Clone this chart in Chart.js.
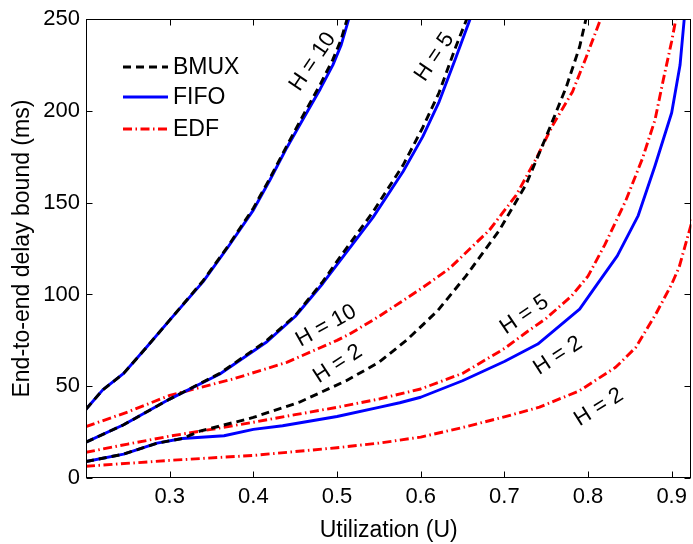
<!DOCTYPE html>
<html>
<head>
<meta charset="utf-8">
<script src="https://cdn.jsdelivr.net/npm/chart.js@4.4.1/dist/chart.umd.min.js"></script>
<style>
  html, body { margin: 0; padding: 0; background: #fff; }
  #wrap { width: 693px; height: 544px; position: relative; }
</style>
</head>
<body>
<div id="wrap"><canvas id="c" width="693" height="544"></canvas></div>
<script>
// ---------- data ----------
const xTickValues = [0.3, 0.4, 0.5, 0.6, 0.7, 0.8, 0.9];
const yTickValues = [0, 50, 100, 150, 200, 250];

const bmuxH10U = [0.2, 0.22, 0.245, 0.27, 0.3, 0.34, 0.37, 0.4, 0.42, 0.44, 0.46, 0.48, 0.495, 0.505, 0.512];
const bmuxH10D = [37.5, 48, 57, 70, 86, 107.5, 126.5, 147, 163.5, 181, 198, 214.5, 228, 239, 250];
const bmuxH5U  = [0.2, 0.245, 0.3, 0.36, 0.415, 0.45, 0.483, 0.503, 0.543, 0.579, 0.6025, 0.622, 0.642, 0.655];
const bmuxH5D  = [19.5, 29, 43, 57, 74.5, 88.5, 107, 120, 145, 170.5, 191, 210, 235, 250];
const bmuxH2U  = [0.2, 0.245, 0.285, 0.315, 0.336, 0.4, 0.455, 0.511, 0.55, 0.583, 0.62, 0.654, 0.694, 0.726, 0.75, 0.774, 0.79, 0.7975];
const bmuxH2D  = [9, 13, 19, 21.5, 25.5, 33, 41.3, 53, 63, 75, 91, 110, 135, 160, 186, 213, 235, 250];

const fifoH10U = [0.2, 0.22, 0.245, 0.27, 0.3, 0.34, 0.37, 0.4, 0.42, 0.44, 0.46, 0.48, 0.495, 0.505, 0.514];
const fifoH10D = [37.5, 48, 57, 70, 86, 107, 126, 146, 162.5, 180, 196, 212, 225, 236, 250];
const fifoH5U  = [0.2, 0.245, 0.3, 0.36, 0.415, 0.45, 0.483, 0.503, 0.543, 0.579, 0.6025, 0.622, 0.642, 0.659];
const fifoH5D  = [19.5, 29, 43, 56.7, 73.8, 88, 106, 118, 142, 167, 186, 205, 229, 250];
const fifoH2U  = [0.2, 0.245, 0.285, 0.315, 0.365, 0.4, 0.435, 0.5, 0.55, 0.575, 0.6, 0.65, 0.7, 0.74, 0.79, 0.81, 0.835, 0.86, 0.88, 0.9, 0.91, 0.915];
const fifoH2D  = [9, 13, 19, 21.5, 23, 26.5, 28.5, 33.5, 38.5, 41, 44, 53, 63.5, 73, 92, 105, 121, 143, 170, 199, 225, 250];

const edfH10U = [0.2, 0.25, 0.3, 0.376, 0.44, 0.5, 0.515, 0.55, 0.6, 0.634, 0.65, 0.682, 0.714, 0.738, 0.758, 0.7815, 0.7975, 0.815];
const edfH10D = [28, 36, 45, 54, 63, 75, 78.4, 88, 103, 114, 121, 135, 154, 174, 192.4, 210.5, 228.9, 250];
const edfH5U  = [0.2, 0.25, 0.3, 0.35, 0.4, 0.45, 0.5, 0.55, 0.6, 0.65, 0.7, 0.726, 0.75, 0.78, 0.8, 0.82, 0.845, 0.865, 0.88, 0.89, 0.9, 0.905];
const edfH5D  = [14, 18.5, 22.8, 26.5, 30.4, 34.5, 38.5, 43, 48.5, 57, 70.5, 79.3, 87, 99, 110, 127, 151, 174, 195, 217, 238, 250];
const edfH2U  = [0.2, 0.3, 0.4, 0.5, 0.55, 0.6, 0.65, 0.7, 0.742, 0.79, 0.833, 0.857, 0.881, 0.9, 0.909, 0.925];
const edfH2D  = [6.4, 9.6, 12.3, 16.5, 19, 22.3, 27.5, 33.3, 38.6, 47.6, 60.3, 71.1, 89.3, 105.6, 115, 141];

const legendLabels = ['BMUX', 'FIFO', 'EDF'];

// curve labels: text, U, delay, angle (deg)
const noteTexts  = ['H = 10', 'H = 5', 'H = 10', 'H = 2', 'H = 5', 'H = 2', 'H = 2'];
const noteU      = [0.471, 0.6165, 0.487, 0.501, 0.724, 0.764, 0.813];
const noteD      = [226.8, 229.4, 82.9, 62.1, 88.9, 66.6, 38.6];
const noteAngles = [-56, -56, -29, -33, -34, -33, -32];

// ---------- styles ----------
const FONT = "'Liberation Sans', Arial, Helvetica, sans-serif";
const styleBMUX = { borderColor: '#000000', borderDash: [8, 5], borderWidth: 2.9 };
const styleFIFO = { borderColor: '#0000ff', borderDash: [], borderWidth: 2.9 };
const styleEDF  = { borderColor: '#ff0000', borderDash: [9, 3.5, 1.5, 3.5], borderWidth: 2.9 };

function pts(u, d) { return u.map((v, i) => ({ x: v, y: d[i] })); }
function ds(label, style, u, d) {
  return Object.assign({ label, data: pts(u, d), pointRadius: 0, tension: 0, fill: false,
    borderCapStyle: 'butt', borderJoinStyle: 'round' }, style);
}

const datasets = [
  ds('BMUX', styleBMUX, bmuxH10U, bmuxH10D),
  ds('BMUX H=5', styleBMUX, bmuxH5U, bmuxH5D),
  ds('BMUX H=2', styleBMUX, bmuxH2U, bmuxH2D),
  ds('FIFO', styleFIFO, fifoH10U, fifoH10D),
  ds('FIFO H=5', styleFIFO, fifoH5U, fifoH5D),
  ds('FIFO H=2', styleFIFO, fifoH2U, fifoH2D),
  ds('EDF', styleEDF, edfH10U, edfH10D),
  ds('EDF H=5', styleEDF, edfH5U, edfH5D),
  ds('EDF H=2', styleEDF, edfH2U, edfH2D),
];

// frame with inward ticks on all sides
const framePlugin = {
  id: 'frame',
  afterDatasetsDraw(chart) {
    const { ctx, chartArea: a, scales } = chart;
    ctx.save();
    ctx.strokeStyle = '#000';
    ctx.lineWidth = 1;
    ctx.setLineDash([]);
    const L = Math.round(a.left) + 0.5, R = Math.round(a.right) - 0.5;
    const T = Math.round(a.top) + 0.5, B = Math.round(a.bottom) - 0.5;
    ctx.strokeRect(L, T, R - L, B - T);
    const tl = 6;
    ctx.beginPath();
    xTickValues.forEach(v => {
      const x = Math.round(scales.x.getPixelForValue(v)) + 0.5;
      ctx.moveTo(x, B); ctx.lineTo(x, B - tl);
      ctx.moveTo(x, T); ctx.lineTo(x, T + tl);
    });
    yTickValues.forEach(v => {
      const y = Math.round(scales.y.getPixelForValue(v)) + 0.5;
      ctx.moveTo(L, y); ctx.lineTo(L + tl, y);
      ctx.moveTo(R, y); ctx.lineTo(R - tl, y);
    });
    ctx.stroke();
    ctx.restore();
  }
};

// curve labels
const notePlugin = {
  id: 'notes',
  afterDatasetsDraw(chart) {
    const { ctx, scales } = chart;
    ctx.save();
    ctx.fillStyle = '#000';
    ctx.font = '22px ' + FONT;
    ctx.textAlign = 'center';
    ctx.textBaseline = 'middle';
    noteTexts.forEach((t, i) => {
      const x = scales.x.getPixelForValue(noteU[i]);
      const y = scales.y.getPixelForValue(noteD[i]);
      ctx.save();
      ctx.translate(x, y);
      ctx.rotate(noteAngles[i] * Math.PI / 180);
      ctx.fillText(t, 0, 0);
      ctx.restore();
    });
    ctx.restore();
  }
};

// legend (no box), built from the datasets' own styles
const legendPlugin = {
  id: 'legendInside',
  afterDatasetsDraw(chart) {
    const { ctx } = chart;
    const groups = [chart.data.datasets[0], chart.data.datasets[3], chart.data.datasets[6]];
    const x0 = 123, x1 = 168, tx = 173;
    const ys = [67, 97, 129];
    ctx.save();
    ctx.font = '23px ' + FONT;
    ctx.textBaseline = 'middle';
    ctx.textAlign = 'left';
    groups.forEach((g, i) => {
      ctx.strokeStyle = g.borderColor;
      ctx.lineWidth = g.borderWidth;
      ctx.setLineDash(g.borderDash || []);
      ctx.beginPath();
      ctx.moveTo(x0, ys[i]); ctx.lineTo(x1, ys[i]);
      ctx.stroke();
      ctx.setLineDash([]);
      ctx.fillStyle = '#000';
      ctx.fillText(legendLabels[i], tx, ys[i] + 1);
    });
    ctx.restore();
  }
};

new Chart(document.getElementById('c'), {
  type: 'line',
  data: { datasets },
  plugins: [framePlugin, notePlugin, legendPlugin],
  options: {
    responsive: false,
    animation: false,
    devicePixelRatio: 1,
    layout: { padding: { left: 0, right: 1, top: 17, bottom: 0 } },
    plugins: { legend: { display: false }, tooltip: { enabled: false } },
    scales: {
      x: {
        type: 'linear',
        min: 0.2, max: 0.9235,
        grid: { display: false, drawTicks: false },
        border: { display: false },
        afterBuildTicks(scale) { scale.ticks = xTickValues.map(v => ({ value: v })); },
        afterFit(scale) { scale.height = 66; },
        ticks: {
          color: '#000', padding: 6, maxRotation: 0, autoSkip: false,
          font: { family: FONT, size: 22 },
          callback: v => v.toFixed(1)
        },
        title: {
          display: true, text: 'Utilization (U)', color: '#000',
          font: { family: FONT, size: 23 }, padding: { top: 0, bottom: 0 }
        }
      },
      y: {
        type: 'linear',
        min: 0, max: 250,
        grid: { display: false, drawTicks: false },
        border: { display: false },
        afterBuildTicks(scale) { scale.ticks = yTickValues.map(v => ({ value: v })); },
        afterFit(scale) { scale.width = 86; },
        ticks: {
          color: '#000', padding: 6, autoSkip: false,
          font: { family: FONT, size: 22 },
          callback: v => String(v)
        },
        title: {
          display: true, text: 'End-to-end delay bound (ms)', color: '#000',
          font: { family: FONT, size: 23 }, padding: { top: 9, bottom: 0 }
        }
      }
    }
  }
});
</script>
</body>
</html>
